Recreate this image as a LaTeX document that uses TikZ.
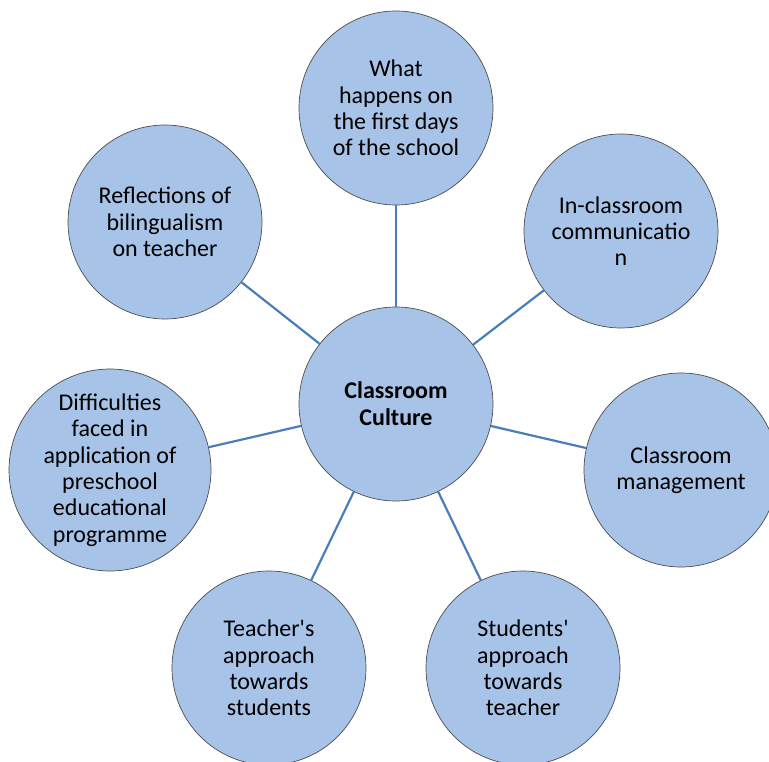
\documentclass[tikz,border=0pt]{standalone}
\usepackage{fontspec}
\setmainfont{Carlito}[Ligatures=TeXOff]
\begin{document}
\begin{tikzpicture}[x=1pt,y=-1pt,
  bubble/.style={circle, minimum size=194pt, inner sep=0pt, draw=black!70, line width=0.7pt,
    fill=bubblefill, align=center, font=\fontsize{24}{26.3}\selectfont},
  link/.style={draw=linkblue, line width=2.2pt}]
\definecolor{bubblefill}{RGB}{167,196,232}
\definecolor{linkblue}{RGB}{74,126,187}
\useasboundingbox (0,0) rectangle (769,762);
\clip (0,0) rectangle (769,762);
\coordinate (cc) at (396,404);
\coordinate (c1) at (396,108);
\coordinate (c2) at (165,222);
\coordinate (c3) at (621,231);
\coordinate (c4) at (110,470);
\coordinate (c5) at (681,470);
\coordinate (c6) at (269,668);
\coordinate (c7) at (523,668);
\node[bubble] (n1) at (c1) {What\\happens on\\the first days\\of the school};
\node[bubble] (n2) at (c2) {Reflections of\\bilingualism\\on teacher};
\node[bubble] (n3) at (c3) {In-classroom\\communicatio\\n};
\node[bubble] (n4) at (c4) {Difficulties\\faced in\\application of\\preschool\\educational\\programme};
\node[bubble] (n5) at (c5) {Classroom\\management};
\node[bubble] (n6) at (c6) {Teacher's\\approach\\towards\\students};
\node[bubble] (n7) at (c7) {Students'\\approach\\towards\\teacher};
\node[bubble, font=\fontsize{24}{27}\selectfont\bfseries] (nc) at (cc) {Classroom\\Culture};
\foreach \n in {n1,n2,n3,n4,n5,n6,n7} {\draw[link] (nc) -- (\n);}
\end{tikzpicture}
\end{document}
